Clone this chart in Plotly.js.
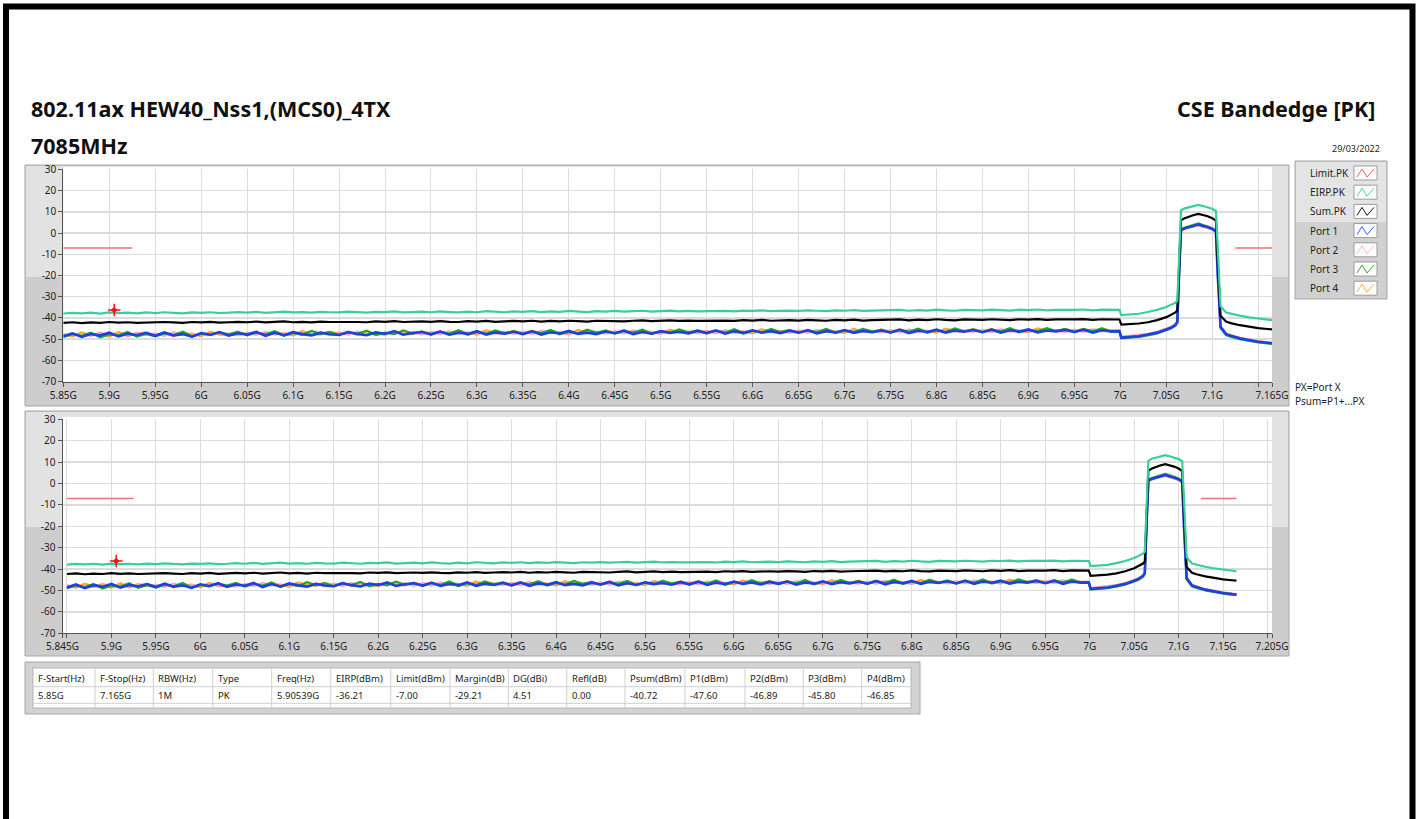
<!DOCTYPE html>
<html><head><meta charset="utf-8">
<script src="https://cdn.plot.ly/plotly-3.0.1.min.js"></script>
<style>html,body{margin:0;padding:0;background:#fff;}#chart{width:1419px;height:819px;}</style>
</head><body><div id="chart"></div>
<script>
// ---------------- DATA ----------------
const freqGHz = [
5.85,5.86,5.87,5.88,5.89,5.90,5.91,5.92,5.93,5.94,
5.95,5.96,5.97,5.98,5.99,6.00,6.01,6.02,6.03,6.04,
6.05,6.06,6.07,6.08,6.09,6.10,6.11,6.12,6.13,6.14,
6.15,6.16,6.17,6.18,6.19,6.20,6.21,6.22,6.23,6.24,
6.25,6.26,6.27,6.28,6.29,6.30,6.31,6.32,6.33,6.34,
6.35,6.36,6.37,6.38,6.39,6.40,6.41,6.42,6.43,6.44,
6.45,6.46,6.47,6.48,6.49,6.50,6.51,6.52,6.53,6.54,
6.55,6.56,6.57,6.58,6.59,6.60,6.61,6.62,6.63,6.64,
6.65,6.66,6.67,6.68,6.69,6.70,6.71,6.72,6.73,6.74,
6.75,6.76,6.77,6.78,6.79,6.80,6.81,6.82,6.83,6.84,
6.85,6.86,6.87,6.88,6.89,6.90,6.91,6.92,6.93,6.94,
6.95,6.96,6.97,6.98,6.99,
6.999,7.001,7.01,7.02,7.03,7.04,7.05,7.055,7.06,7.062,7.064,7.066,7.07,7.075,7.08,7.085,7.09,7.095,7.1,7.104,7.106,7.109,7.115,7.12,7.13,7.14,7.15,7.16,7.165];

const eirpPK = [
-37.9,-37.6,-37.8,-37.5,-37.9,-37.4,-37.7,-37.5,-37.8,-37.4,
-37.7,-37.3,-37.6,-37.8,-37.4,-37.6,-37.3,-37.7,-37.5,-37.2,
-37.5,-37.1,-37.6,-37.3,-37.0,-37.4,-37.2,-37.5,-37.1,-37.3,
-37.4,-37.0,-37.3,-37.5,-37.1,-37.2,-36.9,-37.4,-37.2,-37.0,
-37.3,-36.9,-37.2,-37.4,-37.0,-37.3,-36.8,-37.1,-37.3,-36.9,
-37.1,-36.8,-37.2,-36.9,-37.1,-36.7,-37.0,-37.2,-36.8,-37.0,
-36.7,-37.0,-36.8,-36.6,-37.0,-36.8,-36.5,-36.9,-36.7,-36.9,
-36.8,-36.5,-36.7,-36.9,-36.5,-36.7,-36.4,-36.8,-36.6,-36.5,
-36.7,-36.4,-36.6,-36.8,-36.4,-36.6,-36.3,-36.7,-36.5,-36.4,
-36.5,-36.2,-36.6,-36.3,-36.5,-36.1,-36.4,-36.6,-36.2,-36.4,
-36.4,-36.1,-36.3,-36.5,-36.1,-36.3,-36.0,-36.4,-36.2,-36.3,
-36.2,-36.0,-36.4,-36.1,-36.3,
-36.2,-38.6,-38.4,-38.0,-37.2,-36.2,-34.8,-33.8,-32.8,-31.8,-8,10.6,11.6,12.2,12.8,13.2,12.7,12.1,11.4,10.4,-10,-34.5,-37.4,-38.0,-38.9,-39.7,-40.3,-40.8,-41.0];

const sumPK = [
-42.3,-42.0,-42.4,-42.1,-42.3,-41.9,-42.2,-42.0,-42.3,-42.1,
-42.2,-41.9,-42.1,-42.3,-41.9,-42.1,-41.8,-42.2,-42.0,-41.8,
-42.0,-41.7,-42.1,-41.9,-41.6,-42.0,-41.8,-42.1,-41.7,-41.9,
-41.9,-41.6,-41.9,-42.0,-41.6,-41.8,-41.5,-41.9,-41.7,-41.6,
-41.8,-41.5,-41.8,-41.9,-41.5,-41.7,-41.4,-41.8,-41.6,-41.4,
-41.6,-41.3,-41.7,-41.4,-41.6,-41.3,-41.5,-41.7,-41.3,-41.5,
-41.4,-41.6,-41.3,-41.1,-41.5,-41.3,-41.1,-41.4,-41.2,-41.4,
-41.3,-41.0,-41.2,-41.4,-41.0,-41.2,-40.9,-41.3,-41.1,-41.0,
-41.2,-40.9,-41.1,-41.3,-40.9,-41.1,-40.8,-41.2,-41.0,-40.9,
-41.0,-40.7,-41.1,-40.8,-41.0,-40.6,-40.9,-41.1,-40.7,-40.9,
-40.9,-40.6,-40.8,-41.0,-40.6,-40.8,-40.5,-40.9,-40.7,-40.8,
-40.7,-40.5,-40.9,-40.6,-40.7,
-40.7,-43.1,-43.0,-42.6,-42.0,-41.0,-39.6,-38.6,-37.4,-36.4,-12,6.0,7.0,7.8,8.5,9.0,8.6,7.9,7.0,5.8,-14,-39.0,-41.7,-42.4,-43.4,-44.2,-44.8,-45.2,-45.4];

const port1 = [
-48.6,-47.2,-48.9,-47.5,-48.3,-46.9,-48.7,-47.4,-48.1,-47.0,
-48.4,-46.8,-48.2,-47.6,-48.8,-47.1,-47.9,-46.6,-48.3,-47.2,
-47.8,-46.5,-48.4,-47.0,-48.1,-46.7,-47.6,-48.2,-46.9,-47.7,
-48.0,-46.6,-47.5,-48.1,-46.8,-47.4,-46.3,-47.9,-47.1,-46.6,
-47.7,-46.4,-47.9,-46.9,-47.5,-46.2,-47.8,-46.8,-47.4,-46.5,
-47.6,-46.3,-47.8,-46.7,-47.3,-46.1,-47.5,-46.9,-47.6,-46.4,
-47.2,-46.0,-47.6,-46.6,-47.4,-46.2,-47.0,-46.5,-47.3,-46.1,
-47.1,-45.9,-47.4,-46.3,-47.0,-45.8,-46.9,-46.2,-47.2,-46.0,
-46.9,-45.8,-47.3,-46.2,-46.8,-45.7,-47.0,-46.1,-46.7,-45.9,
-46.8,-45.6,-47.1,-46.0,-46.6,-45.5,-46.9,-45.9,-46.5,-45.7,
-46.7,-45.5,-46.9,-45.8,-46.4,-45.4,-46.8,-45.9,-46.3,-45.6,
-46.6,-45.5,-46.9,-45.8,-46.3,
-46.2,-49.2,-48.9,-48.6,-47.8,-46.9,-45.4,-44.6,-43.2,-41.8,-18,1.4,2.2,2.9,3.4,4.0,3.3,2.8,1.9,0.8,-20,-44.2,-47.6,-48.4,-49.6,-50.5,-51.2,-51.7,-51.9];

const port2 = [
-47.4,-48.7,-47.1,-48.5,-46.8,-48.2,-47.0,-48.6,-46.9,-48.0,
-47.3,-48.4,-46.7,-48.1,-47.2,-48.5,-46.6,-47.9,-47.4,-48.2,
-46.9,-48.0,-46.5,-47.8,-47.1,-48.3,-46.4,-47.6,-46.8,-48.1,
-46.7,-47.9,-46.4,-47.5,-46.9,-48.0,-46.3,-47.4,-46.6,-47.8,
-46.5,-47.7,-46.2,-47.4,-46.8,-47.9,-46.1,-47.3,-46.6,-47.5,
-46.4,-47.6,-46.0,-47.2,-46.7,-47.7,-45.9,-47.1,-46.5,-47.4,
-46.2,-47.4,-45.9,-47.0,-46.5,-47.5,-45.8,-46.9,-46.3,-47.2,
-46.0,-47.2,-45.7,-46.9,-46.3,-47.3,-45.6,-46.7,-46.1,-47.0,
-45.9,-47.0,-45.6,-46.7,-46.2,-47.1,-45.5,-46.6,-46.0,-46.9,
-45.7,-46.9,-45.4,-46.5,-46.0,-47.0,-45.3,-46.4,-45.8,-46.7,
-45.6,-46.7,-45.3,-46.4,-45.9,-46.8,-45.2,-46.3,-45.7,-46.6,
-45.5,-46.6,-45.2,-46.3,-45.8,
-45.9,-48.8,-48.5,-48.1,-47.5,-46.5,-45.0,-44.2,-42.9,-41.5,-17,1.0,1.9,2.6,3.1,3.6,3.0,2.5,1.7,0.5,-21,-44.5,-47.3,-48.1,-49.3,-50.2,-50.9,-51.4,-51.6];

const port3 = [
-48.9,-47.6,-48.4,-46.9,-49.1,-47.8,-48.2,-46.6,-48.8,-47.5,
-48.6,-47.3,-48.0,-46.5,-48.7,-47.4,-48.1,-46.8,-47.7,-46.4,
-48.2,-46.9,-47.7,-46.2,-48.4,-47.0,-47.9,-46.1,-47.5,-46.6,
-48.0,-46.8,-47.4,-46.0,-48.1,-46.9,-47.6,-45.9,-47.3,-46.4,
-47.8,-46.5,-47.3,-45.8,-47.9,-46.7,-47.4,-45.8,-47.1,-46.2,
-47.6,-46.3,-47.1,-45.6,-47.7,-46.5,-47.2,-45.5,-46.9,-46.0,
-47.4,-46.1,-46.9,-45.5,-47.5,-46.3,-47.0,-45.4,-46.8,-45.9,
-47.2,-45.9,-46.8,-45.3,-47.3,-46.1,-46.8,-45.2,-46.6,-45.7,
-47.0,-45.8,-46.6,-45.1,-47.1,-46.0,-46.6,-45.1,-46.4,-45.6,
-46.9,-45.6,-46.4,-45.0,-47.0,-45.8,-46.5,-44.9,-46.3,-45.4,
-46.7,-45.5,-46.3,-44.8,-46.8,-45.7,-46.3,-44.8,-46.1,-45.3,
-46.6,-45.3,-46.2,-44.9,-46.5,
-46.4,-49.6,-49.3,-48.9,-48.2,-47.3,-45.8,-45.0,-43.6,-42.2,-19,1.8,2.6,3.3,3.9,4.5,3.8,3.2,2.3,1.1,-19,-44.8,-48.0,-48.8,-50.0,-50.8,-51.5,-52.0,-52.2];

const port4 = [
-47.9,-48.5,-46.8,-48.1,-47.4,-48.8,-46.6,-48.3,-47.6,-46.9,
-48.2,-47.0,-48.6,-46.7,-47.9,-48.4,-46.5,-47.7,-48.1,-46.8,
-47.8,-46.6,-48.3,-46.4,-47.6,-48.0,-46.2,-47.5,-47.8,-46.5,
-47.6,-46.4,-48.0,-46.2,-47.4,-47.8,-46.0,-47.3,-47.6,-46.3,
-47.4,-46.2,-47.8,-46.0,-47.2,-47.6,-45.8,-47.1,-47.4,-46.1,
-47.2,-46.0,-47.6,-45.8,-47.0,-47.4,-45.6,-46.9,-47.2,-45.9,
-47.0,-45.8,-47.4,-45.6,-46.8,-47.2,-45.5,-46.7,-47.0,-45.7,
-46.8,-45.7,-47.2,-45.5,-46.6,-47.0,-45.3,-46.5,-46.8,-45.6,
-46.6,-45.5,-47.0,-45.3,-46.5,-46.8,-45.2,-46.4,-46.6,-45.4,
-46.5,-45.3,-46.9,-45.2,-46.3,-46.7,-45.0,-46.2,-46.5,-45.3,
-46.3,-45.2,-46.7,-45.0,-46.1,-46.5,-44.9,-46.0,-46.3,-45.1,
-46.2,-45.1,-46.5,-44.9,-46.0,
-46.1,-49.0,-48.7,-48.4,-47.6,-46.7,-45.2,-44.4,-43.0,-41.6,-18,1.2,2.0,2.7,3.2,3.8,3.1,2.6,1.8,0.6,-20,-44.0,-47.4,-48.2,-49.5,-50.4,-51.1,-51.5,-51.8];

const limitFreqGHz = [5.85, 5.925, null, 7.125, 7.165];
const limitDBm = [-7, -7, null, -7, -7];

const markerFreqGHz = [5.90539];
const markerDBm = [-36.21];

const yTickVals = [30,20,10,0,-10,-20,-30,-40,-50,-60,-70];
const yTickText = ['30','20','10','0','-10','-20','-30','-40','-50','-60','-70'];

const topTickVals = [5.85,5.9,5.95,6,6.05,6.1,6.15,6.2,6.25,6.3,6.35,6.4,6.45,6.5,6.55,6.6,6.65,6.7,6.75,6.8,6.85,6.9,6.95,7,7.05,7.1,7.15,7.165];
const topTickText = ['5.85G','5.9G','5.95G','6G','6.05G','6.1G','6.15G','6.2G','6.25G','6.3G','6.35G','6.4G','6.45G','6.5G','6.55G','6.6G','6.65G','6.7G','6.75G','6.8G','6.85G','6.9G','6.95G','7G','7.05G','7.1G','','7.165G'];
const botTickVals = [5.845,5.85,5.9,5.95,6,6.05,6.1,6.15,6.2,6.25,6.3,6.35,6.4,6.45,6.5,6.55,6.6,6.65,6.7,6.75,6.8,6.85,6.9,6.95,7,7.05,7.1,7.15,7.2,7.205];
const botTickText = ['5.845G','','5.9G','5.95G','6G','6.05G','6.1G','6.15G','6.2G','6.25G','6.3G','6.35G','6.4G','6.45G','6.5G','6.55G','6.6G','6.65G','6.7G','6.75G','6.8G','6.85G','6.9G','6.95G','7G','7.05G','7.1G','7.15G','','7.205G'];

const legendNames = ['Limit.PK','EIRP.PK','Sum.PK','Port 1','Port 2','Port 3','Port 4'];

const tableHeaders = ['F-Start(Hz)','F-Stop(Hz)','RBW(Hz)','Type','Freq(Hz)','EIRP(dBm)','Limit(dBm)','Margin(dB)','DG(dBi)','Refl(dB)','Psum(dBm)','P1(dBm)','P2(dBm)','P3(dBm)','P4(dBm)'];
const tableValues = ['5.85G','7.165G','1M','PK','5.90539G','-36.21','-7.00','-29.21','4.51','0.00','-40.72','-47.60','-46.89','-45.80','-46.85'];

const titleLine1 = '802.11ax HEW40_Nss1,(MCS0)_4TX';
const titleLine2 = '7085MHz';
const titleRight = 'CSE Bandedge [PK]';
const dateText = '29/03/2022';
const noteLines = ['PX=Port X','Psum=P1+...PX'];

// ---------------- STYLE ----------------
const W = 1419, H = 819;
const X = p => p / W, Y = p => 1 - p / H;
const FONT = 'Noto Sans, Open Sans, DejaVu Sans, sans-serif';
const C = {limit:'#f07272', eirp:'#38cf9c', sum:'#000000', p1:'#1d3fe6', p2:'#ffa6d6', p3:'#22a822', p4:'#ffa836', marker:'#ff1010'};
const legendColors = ['#ff5a5a','#46d6a6','#111111','#3060ff','#ffb0da','#30b030','#ffb040'];
const tableColEdges = [33.3,95,153.3,212.7,271.7,330.7,390.7,450,508.3,566.7,625,685,745,803.3,861.7,910];

function seriesFor(xa, ya) {
  const mk = (y, color, w, name) => ({type:'scatter', mode:'lines', x:freqGHz, y:y, xaxis:xa, yaxis:ya, name:name,
    line:{color:color, width:w}, hoverinfo:'skip'});
  return [
    mk(port2, C.p2, 2.2, 'Port 2'),
    mk(port4, C.p4, 2.2, 'Port 4'),
    mk(port3, C.p3, 2.2, 'Port 3'),
    mk(port1, C.p1, 2.6, 'Port 1'),
    mk(sumPK, C.sum, 2.2, 'Sum.PK'),
    mk(eirpPK, C.eirp, 2.2, 'EIRP.PK'),
    {type:'scatter', mode:'lines', x:limitFreqGHz, y:limitDBm, xaxis:xa, yaxis:ya, line:{color:C.limit, width:1.5}, connectgaps:false, hoverinfo:'skip'},
    {type:'scatter', mode:'markers', x:markerFreqGHz, y:markerDBm, xaxis:xa, yaxis:ya, marker:{symbol:'cross-thin-open', size:9, color:C.marker, line:{color:C.marker, width:1.5}}, hoverinfo:'skip'},
    {type:'scatter', mode:'markers', x:markerFreqGHz, y:markerDBm, xaxis:xa, yaxis:ya, marker:{symbol:'diamond', size:5, color:C.marker}, hoverinfo:'skip'}
  ];
}

const data = [...seriesFor('x','y'), ...seriesFor('x2','y2')];

function rect(x0,y0,x1,y1,fill,line,lw){
  return {type:'rect', xref:'paper', yref:'paper', x0:X(x0), x1:X(x1), y0:Y(y0), y1:Y(y1),
    fillcolor: fill || 'rgba(0,0,0,0)', line:{color: line || 'rgba(0,0,0,0)', width: lw || 0}, layer:'below'};
}
function seg(x0,y0,x1,y1,color){
  return {type:'line', xref:'paper', yref:'paper', x0:X(x0), x1:X(x1), y0:Y(y0), y1:Y(y1), line:{color:color, width:1}, layer:'below'};
}
function zig(x0, yc, color){
  const pts = [[x0+3,yc+4],[x0+8,yc-4],[x0+13,yc+4],[x0+20,yc-4]];
  const d = 'M ' + pts.map(p => X(p[0]) + ',' + Y(p[1])).join(' L ');
  return {type:'path', xref:'paper', yref:'paper', path:d, line:{color:color, width:1}, layer:'above'};
}

const shapes = [];
shapes.push({type:'rect', xref:'paper', yref:'paper', x0:X(6), x1:X(1412.5), y0:-0.05, y1:Y(6.5), line:{color:'#000', width:6}, layer:'below'});
shapes.push(rect(25,165,1289,406,'#cdcdcd','#a6a6a6',1));
shapes.push(rect(26,166,1288,277,'#e2e2e2'));
shapes.push(rect(63.3,167,1272,381.7,'#ffffff'));
shapes.push(rect(25,411,1289,656,'#cdcdcd','#a6a6a6',1));
shapes.push(rect(26,412,1288,527,'#e2e2e2'));
shapes.push(rect(62.5,417,1272,633.3,'#ffffff'));
shapes.push(rect(1295,161,1387,299,'#d0d0d0','#a6a6a6',1));
shapes.push(rect(1296,162,1386,222,'#e4e4e4'));
shapes.push(rect(25,662,920,714,'#d2d2d2','#a6a6a6',1));
shapes.push(rect(33,668,911,708,'#ffffff','#b4b4b4',1));
tableColEdges.slice(1, -1).forEach(x => shapes.push(seg(x, 669, x, 707.5, '#cfcfcf')));
shapes.push(seg(33.5, 686.7, 910.5, 686.7, '#cfcfcf'));
shapes.push(seg(33.5, 703.3, 910.5, 703.3, '#cfcfcf'));

const annotations = [];
const legY0 = 173, legDY = 19.2;
legendNames.forEach((n, i) => {
  const yc = legY0 + i * legDY;
  annotations.push({xref:'paper', yref:'paper', x:X(1308), y:Y(yc), xanchor:'left', yanchor:'middle', showarrow:false, text:n, font:{family:FONT, size:10, color:'#222'}});
  shapes.push(rect(1354, yc-7, 1377, yc+7, '#ffffff', '#9c9c9c', 1));
  shapes.push(zig(1354, yc, legendColors[i]));
});
tableHeaders.forEach((h, i) => {
  const x = tableColEdges[i] + 3;
  annotations.push({xref:'paper', yref:'paper', x:X(x), y:Y(678.3), xanchor:'left', yanchor:'middle', showarrow:false, text:h, font:{family:FONT, size:9.5, color:'#222'}});
  annotations.push({xref:'paper', yref:'paper', x:X(x), y:Y(695), xanchor:'left', yanchor:'middle', showarrow:false, text:tableValues[i], font:{family:FONT, size:9.5, color:'#222'}});
});
annotations.push({xref:'paper', yref:'paper', x:X(29), y:Y(109), xanchor:'left', yanchor:'middle', showarrow:false, text:titleLine1, font:{family:FONT, size:21.5, color:'#111', weight:'bold'}});
annotations.push({xref:'paper', yref:'paper', x:X(29), y:Y(145), xanchor:'left', yanchor:'middle', showarrow:false, text:titleLine2, font:{family:FONT, size:21.5, color:'#111', weight:'bold'}});
annotations.push({xref:'paper', yref:'paper', x:X(1377), y:Y(109), xanchor:'right', yanchor:'middle', showarrow:false, text:titleRight, font:{family:FONT, size:21.5, color:'#111', weight:'bold'}});
annotations.push({xref:'paper', yref:'paper', x:X(1382), y:Y(148), xanchor:'right', yanchor:'middle', showarrow:false, text:dateText, font:{family:FONT, size:9, color:'#222'}});
noteLines.forEach((t, i) => {
  annotations.push({xref:'paper', yref:'paper', x:X(1293), y:Y(387 + i*13.5), xanchor:'left', yanchor:'middle', showarrow:false, text:t, font:{family:FONT, size:10, color:'#222'}});
});

function xAxis(dom, range, tv, tt, anchor){
  return {domain:dom, range:range, anchor:anchor, tickmode:'array', tickvals:tv, ticktext:tt,
    showgrid:true, gridcolor:'#dcdcdc', gridwidth:1, zeroline:false, showline:true, linecolor:'#555', linewidth:1,
    ticks:'outside', ticklen:4, tickcolor:'#555', tickfont:{family:FONT, size:10, color:'#222'}, fixedrange:true};
}
function yAxis(dom, anchor){
  return {domain:dom, range:[-70,30], anchor:anchor, tickmode:'array', tickvals:yTickVals, ticktext:yTickText,
    showgrid:true, gridcolor:'#dcdcdc', gridwidth:1.5, zeroline:false, showline:true, linecolor:'#555', linewidth:1,
    ticks:'outside', ticklen:4, tickcolor:'#555', tickfont:{family:FONT, size:10, color:'#222'}, fixedrange:true};
}

const layout = {
  width:W, height:H, margin:{l:0,r:0,t:0,b:0}, paper_bgcolor:'#ffffff', plot_bgcolor:'rgba(0,0,0,0)',
  showlegend:false,
  xaxis: xAxis([X(63.3), X(1272)], [5.85, 7.165], topTickVals, topTickText, 'y'),
  yaxis: yAxis([Y(381.7), Y(169.3)], 'x'),
  xaxis2: xAxis([X(62.5), X(1272)], [5.845, 7.205], botTickVals, botTickText, 'y2'),
  yaxis2: yAxis([Y(633.3), Y(419.3)], 'x2'),
  shapes: shapes, annotations: annotations
};

Plotly.newPlot('chart', data, layout, {staticPlot:true, displayModeBar:false});
</script>
</body></html>
